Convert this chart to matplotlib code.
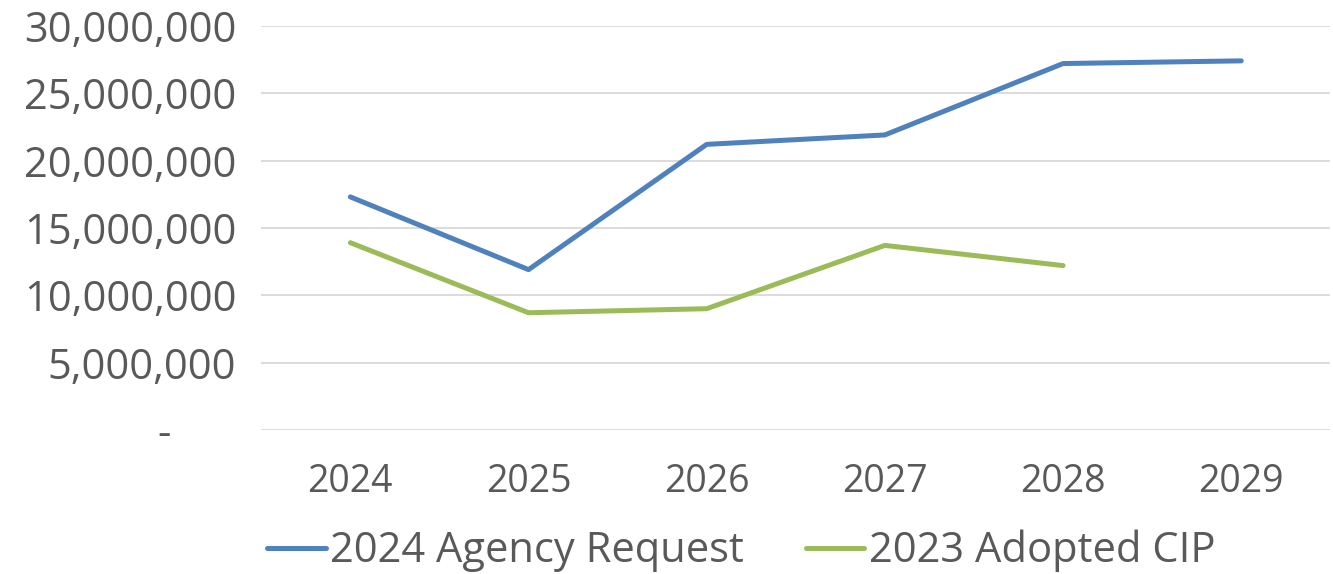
import matplotlib
matplotlib.use("Agg")
import matplotlib.pyplot as plt
from matplotlib.ticker import FuncFormatter

years = ["2024", "2025", "2026", "2027", "2028", "2029"]
agency_request = [17.3e6, 11.9e6, 21.2e6, 21.9e6, 27.2e6, 27.4e6]
adopted_cip = [13.9e6, 8.7e6, 9.0e6, 13.7e6, 12.2e6]

text_color = "#595959"
plt.rcParams['font.family'] = ['Open Sans', 'DejaVu Sans']

fig = plt.figure(figsize=(13.33, 5.74), dpi=100)
ax = fig.add_axes([0.196, 0.251, 0.802, 0.704])

x = list(range(len(years)))
ax.plot(x, agency_request, color="#4F81BD", lw=3.6, solid_capstyle="round",
        label="2024 Agency Request")
ax.plot(x[:len(adopted_cip)], adopted_cip, color="#9BBB59", lw=3.6,
        solid_capstyle="round", label="2023 Adopted CIP")

ax.set_xlim(-0.5, len(years) - 0.5)
ax.set_ylim(0, 30e6)
ax.set_yticks(range(0, 30000001, 5000000))
ax.yaxis.set_major_formatter(FuncFormatter(lambda v, p: "-      " if v == 0 else f"{int(v):,}"))
ax.set_xticks(x)
ax.set_xticklabels(years)

ax.grid(axis="y", color="#D9D9D9", lw=1.3)
ax.set_axisbelow(True)
for s in ax.spines.values():
    s.set_visible(False)
ax.tick_params(axis="both", length=0, colors=text_color)
ax.tick_params(axis="y", pad=18, labelsize=30)
ax.tick_params(axis="x", pad=24, labelsize=27)

fig.legend(loc="lower center", bbox_to_anchor=(0.556, -0.062), ncol=2, frameon=False,
           fontsize=30, handlelength=1.4, handletextpad=0.1, columnspacing=1.5,
           labelcolor=text_color)

fig.savefig("out.png", dpi=100)
